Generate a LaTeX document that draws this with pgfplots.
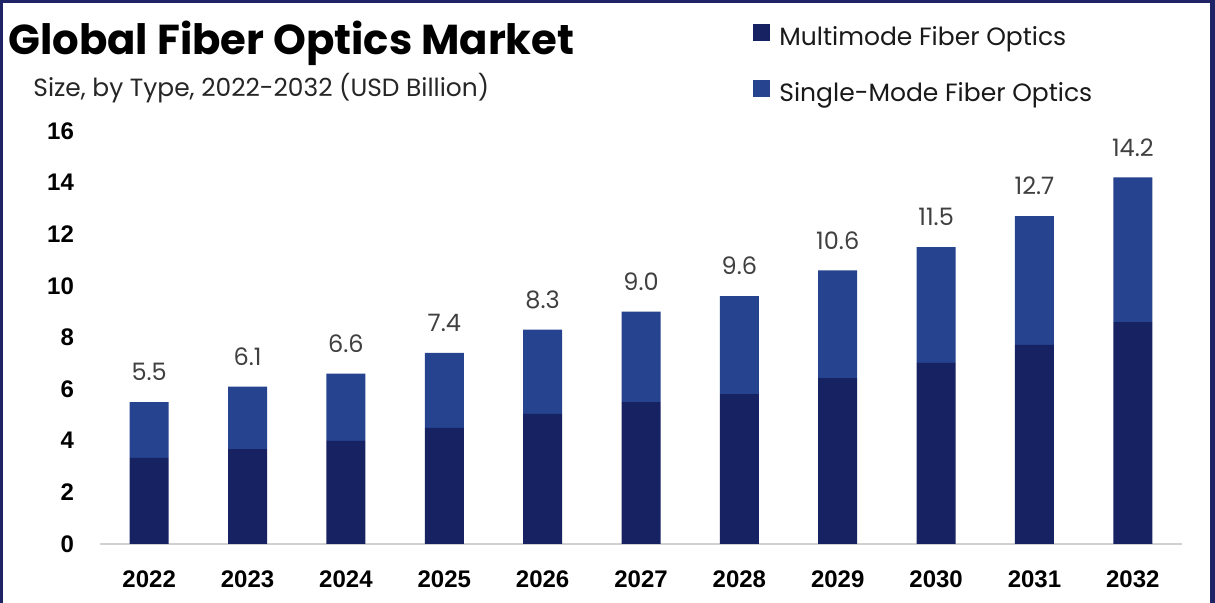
\documentclass[border=0pt]{standalone}
\usepackage{fontspec}
\setmainfont{Poppins}
\newfontfamily\arial{Liberation Sans}
\usepackage{pgfplots}
\pgfplotsset{compat=1.18}
\definecolor{multi}{HTML}{172263}
\definecolor{single}{HTML}{25438F}
\definecolor{framec}{HTML}{1E2466}
\definecolor{lblgray}{HTML}{404040}
\begin{document}
\begin{tikzpicture}[x=0.5pt,y=0.5pt]
\fill[white] (0,0) rectangle (1215,603);
\fill[framec] (0,0) rectangle (3,603);
\fill[framec] (0,600) rectangle (1215,603);
\fill[framec] (1210,0) rectangle (1215,603);
\node[anchor=base west, inner sep=0pt, font=\fontsize{20.9}{25}\selectfont\bfseries] at (8,548) {Global Fiber Optics Market};
\node[anchor=base west, inner sep=0pt, font=\fontsize{12.45}{14}\selectfont, text=black!85] at (33,506) {Size, by Type, 2022-2032 (USD Billion)};
\begin{axis}[
  at={(50pt,29.5pt)}, anchor=south west,
  scale only axis, width=541pt, height=206.5pt,
  ybar stacked, bar width=19.5pt,
  xmin=-0.5, xmax=10.5, ymin=0, ymax=16,
  xtick={0,...,10},
  xticklabels={2022,2023,2024,2025,2026,2027,2028,2029,2030,2031,2032},
  ytick={0,2,...,16},
  axis x line*=bottom, axis y line*=left,
  x axis line style={-, draw=black!18, line width=1.2pt},
  y axis line style={draw=none},
  major tick length=0pt,
  tick label style={font=\arial\bfseries\fontsize{12}{14}\selectfont, text=black},
  /pgf/number format/assume math mode=true,
  yticklabel style={anchor=east, xshift=-9.5pt},
  xticklabel style={yshift=-10pt},
  legend cell align=left,
  legend image code/.code={\fill[#1] (0pt,-0.5pt) rectangle (8.5pt,8pt); \path (13pt,0pt);},
  legend style={at={(0.6035,1.1585)}, anchor=west, draw=none, fill=none, inner sep=0pt,
    font=\fontsize{12.5}{15}\selectfont, text=black!90, row sep=14pt,
    nodes={inner sep=0pt, text depth=3pt, text height=9pt}},
  clip=false,
]
\addplot[fill=multi, draw=none] coordinates {
 (0,3.34) (1,3.68) (2,3.99) (3,4.50) (4,5.04) (5,5.50) (6,5.81) (7,6.43) (8,7.02) (9,7.71) (10,8.60)};
\addlegendentry{Multimode Fiber Optics}
\addplot[fill=single, draw=none] coordinates {
 (0,2.16) (1,2.42) (2,2.61) (3,2.90) (4,3.26) (5,3.50)
 (6,3.79) (7,4.17) (8,4.48) (9,4.99) (10,5.60)};
\addlegendentry{Single-Mode Fiber Optics}
\end{axis}
\begin{axis}[
  at={(50pt,29.5pt)}, anchor=south west,
  scale only axis, width=541pt, height=206.5pt,
  xmin=-0.5, xmax=10.5, ymin=0, ymax=16,
  hide axis, clip=false,
]
\addplot[only marks, mark=none, point meta=explicit symbolic, nodes near coords,
  every node near coord/.append style={font=\fontsize{12}{14}\selectfont, text=lblgray, yshift=7pt, anchor=south}]
 coordinates {
 (0,5.5) [5.5] (1,6.1) [6.1] (2,6.6) [6.6] (3,7.4) [7.4] (4,8.3) [8.3] (5,9.0) [9.0]
 (6,9.6) [9.6] (7,10.6) [10.6] (8,11.5) [11.5] (9,12.7) [12.7] (10,14.2) [14.2]};
\end{axis}
\end{tikzpicture}
\end{document}
